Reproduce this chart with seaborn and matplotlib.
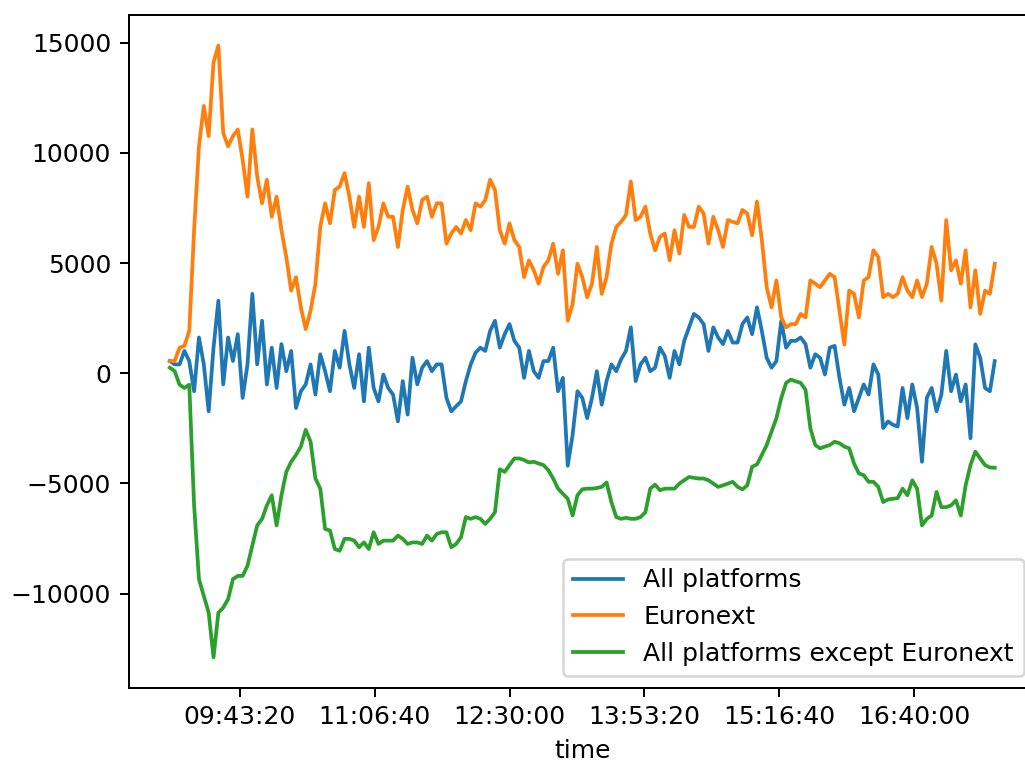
import numpy as np
import pandas as pd
import matplotlib
matplotlib.use("Agg")
import matplotlib.pyplot as plt
from matplotlib.ticker import FuncFormatter
import seaborn as sns

# time grid: minutes after midnight (09:00 .. 17:30, every 3 minutes)
minutes = list(range(540, 1051, 3))

all_platforms = [
    550, 400, 400, 1010, 550, -820, 1620, 400, -1730, 1160,
    3290, -510, 1620, 550, 1770, -1120, 400, 3600, 400, 2380,
    -510, 1160, -670, 1320, 90, 1010, -1580, -820, -510, 400,
    -970, 860, 90, -820, 1010, 250, 1920, 400, -670, 860,
    -1280, 1160, -670, -1280, -60, -670, -970, -2190, -360, -1880,
    700, -510, 250, 550, 90, 400, 400, -1120, -1730, -1500,
    -1280, -360, 400, 930, 1160, 1010, 1920, 2380, 1160, 1770,
    2230, 1470, 1160, -210, 1010, 90, -210, 550, 550, 1160,
    -820, -210, -4200, -2800, -820, -1120, -2040, -1120, 90, -1430,
    -360, 400, 90, 630, 1010, 2080, -360, 400, 700, 90,
    250, 1160, 780, -210, 1010, 400, 1470, 2080, 2690, 2530,
    2230, 1010, 2080, 1620, 1320, 1920, 1390, 1390, 2230, 2530,
    1770, 2990, 1920, 700, 250, 550, 2380, 1160, 1470, 1470,
    1620, 1320, 250, 860, 700, -60, 1160, 1240, -210, -1430,
    -670, -1730, -1120, -510, -970, 400, -60, -2490, -2190, -2340,
    -2420, -670, -2040, -510, -1580, -4020, -1120, -670, -1730, -970,
    1010, -820, -60, -1280, -510, -2950, 1310, 700, -670, -820,
    550,
]

euronext = [
    550, 550, 1160, 1240, 1920, 6490, 10300, 12130, 10760, 14100,
    14870, 10910, 10300, 10760, 11060, 9690, 8015, 11060, 8930, 7710,
    8780, 7100, 8015, 6490, 5270, 3750, 4360, 2990, 2000, 2840,
    4060, 6640, 7710, 6800, 8320, 8470, 9080, 8015, 6640, 8015,
    6640, 8625, 6040, 6640, 7710, 7100, 7100, 5730, 7410, 8470,
    7410, 6800, 7860, 8015, 7100, 7710, 7710, 5880, 6340, 6640,
    6340, 6950, 6490, 7710, 7560, 7860, 8780, 8320, 6490, 5880,
    6800, 6040, 5730, 4360, 5120, 4670, 4060, 4820, 5120, 5880,
    4510, 5580, 2380, 3140, 4970, 4360, 3450, 4060, 5730, 3600,
    4360, 5880, 6640, 6870, 7180, 8700, 6950, 7100, 7560, 6340,
    5580, 6190, 6340, 5120, 6490, 5430, 7180, 6640, 6640, 7560,
    7250, 5880, 7100, 6490, 5730, 6950, 6870, 6800, 7410, 7250,
    6260, 7790, 6040, 3900, 2990, 4210, 2530, 2080, 2230, 2230,
    2690, 2530, 4210, 4060, 3900, 4210, 4510, 4360, 2840, 1300,
    3750, 3600, 2530, 4210, 4360, 5580, 5270, 3450, 3600, 3450,
    3600, 4360, 3750, 3450, 4210, 3450, 4060, 5730, 4970, 3290,
    6950, 4670, 5120, 4060, 5580, 2990, 4670, 2690, 3750, 3600,
    4970,
]

except_euronext = [
    250, 90, -520, -670, -520, -6000, -9350, -10110, -10870, -12900,
    -10870, -10640, -10260, -9350, -9200, -9200, -8740, -7830, -6910, -6610,
    -6000, -5540, -6910, -5540, -4480, -4020, -3710, -3330, -2570, -3110,
    -4780, -5240, -7070, -7140, -7980, -8060, -7520, -7520, -7600, -7900,
    -7680, -7980, -7220, -7750, -7600, -7600, -7600, -7370, -7520, -7750,
    -7680, -7680, -7750, -7370, -7600, -7300, -7220, -7220, -7900, -7750,
    -7450, -6530, -6610, -6530, -6610, -6840, -6610, -6310, -4360, -4480,
    -4170, -3870, -3870, -3940, -4050, -4020, -4100, -4170, -4400, -4780,
    -5240, -5470, -5700, -6460, -5540, -5270, -5240, -5240, -5210, -5160,
    -4960, -5850, -6530, -6610, -6560, -6610, -6610, -6530, -6310, -5240,
    -5060, -5310, -5240, -5240, -5240, -5010, -4860, -4710, -4750, -4780,
    -4780, -4860, -5010, -5160, -5090, -5010, -4930, -5160, -5270, -5090,
    -4250, -4140, -3710, -3260, -2650, -2040, -1130, -440, -290, -370,
    -440, -750, -2500, -3260, -3410, -3330, -3260, -3110, -3180, -3330,
    -3410, -4100, -4550, -4630, -4930, -4930, -5160, -5850, -5730, -5700,
    -5670, -5240, -5540, -4860, -5240, -6910, -6610, -6460, -5390, -6080,
    -6080, -6000, -5770, -6460, -5090, -4170, -3560, -3870, -4170, -4280,
    -4290,
]

labels = ["All platforms", "Euronext", "All platforms except Euronext"]
colors = ["#1f77b4", "#ff7f0e", "#2ca02c"]

seconds = np.array(minutes) * 60

DPI = 180
fig = plt.figure(figsize=(1025 / DPI, 765 / DPI), dpi=DPI)
ax = fig.add_axes([128.6 / 1025, 77 / 765, 907.4 / 1025, 673 / 765])

for vals, lab, col in zip([all_platforms, euronext, except_euronext], labels, colors):
    sns.lineplot(x=seconds, y=vals, ax=ax, label=lab, color=col, linewidth=1.5)


def fmt_time(v, pos=None):
    v = int(round(v))
    h, rem = divmod(v, 3600)
    m, s = divmod(rem, 60)
    return f"{h:02d}:{m:02d}:{s:02d}"


ax.xaxis.set_major_formatter(FuncFormatter(fmt_time))
ax.set_xlabel("time")
ax.set_ylabel("")
ax.legend(loc="lower right")

fig.savefig("out.png", dpi=DPI)
